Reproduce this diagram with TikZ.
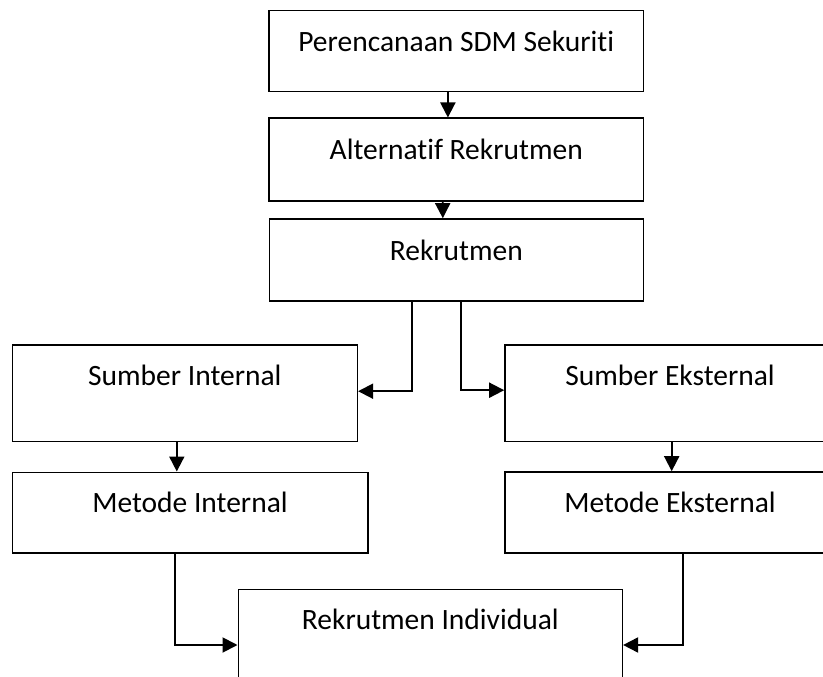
\documentclass[tikz,border=0pt]{standalone}
\usepackage{fontspec}
\setmainfont{Carlito}[RawFeature=-liga]
\usetikzlibrary{arrows.meta}
\tikzset{
  box/.style={draw=black, line width=1.6pt, rectangle, inner sep=0pt},
  lbl/.style={font=\fontsize{29.5}{34}\selectfont, inner sep=0pt, anchor=base},
  flow/.style={draw=black, line width=1.9pt, -{Triangle[length=15pt,width=15pt]}}
}
\begin{document}
\begin{tikzpicture}[x=1pt,y=-1pt]
\useasboundingbox (0,0) rectangle (823,677);
\clip (0,0) rectangle (823,677);

% boxes
\node[box, minimum width=374.3pt, minimum height=81pt]   (p1) at (456.2,51.2) {};
\node[box, minimum width=374.3pt, minimum height=82.4pt] (p2) at (456.2,159.5) {};
\node[box, minimum width=374pt,   minimum height=82pt]   (p3) at (456.3,260) {};
\node[box, minimum width=345pt,   minimum height=96.5pt] (si) at (184.8,393.2) {};
\node[box, minimum width=330pt,   minimum height=96.5pt] (se) at (670,393.2) {};
\node[box, minimum width=355.4pt, minimum height=80.4pt] (mi) at (190,512.5) {};
\node[box, minimum width=330pt,   minimum height=81pt]   (me) at (670,512.5) {};
\node[box, minimum width=384pt,   minimum height=111.4pt] (ri) at (430.3,645) {};

% labels
\node[lbl] (p1t) at (p1.center) {Perencanaan SDM Sekuriti};
\node[lbl] (p2t) at (p2.center) {Alternatif Rekrutmen};
\node[lbl] (p3t) at (p3.center) {Rekrutmen};
\node[lbl] (sit) at ([yshift=8pt]si.center) {Sumber Internal};
\node[lbl] (set) at ([yshift=8pt]se.center) {Sumber Eksternal};
\node[lbl] (mit) at (mi.center) {Metode Internal};
\node[lbl] (met) at (me.center) {Metode Eksternal};
\node[lbl] (rit) at ([yshift=16pt]ri.center) {Rekrutmen Individual};

% connectors
\draw[flow] ([xshift=-8.3pt]p1.south) -- ([xshift=-8.3pt]p2.north);
\draw[flow] ([xshift=-13.5pt]p2.south) -- ([xshift=-13.5pt]p3.north);
\draw[flow] ([xshift=-44.5pt]p3.south) |- ([yshift=2pt]si.east);
\draw[flow] ([xshift=5pt]p3.south) |- ([yshift=3pt]se.west);
\draw[flow] ([xshift=-8pt]si.south) -- ([xshift=-8pt]si.south |- mi.north);
\draw[flow] ([xshift=1.7pt]se.south) -- ([xshift=1.7pt]se.south |- me.north);
\draw[flow] ([xshift=-15pt]mi.south) |- (ri.west);
\draw[flow] ([xshift=12.7pt]me.south) |- (ri.east);
\end{tikzpicture}
\end{document}
